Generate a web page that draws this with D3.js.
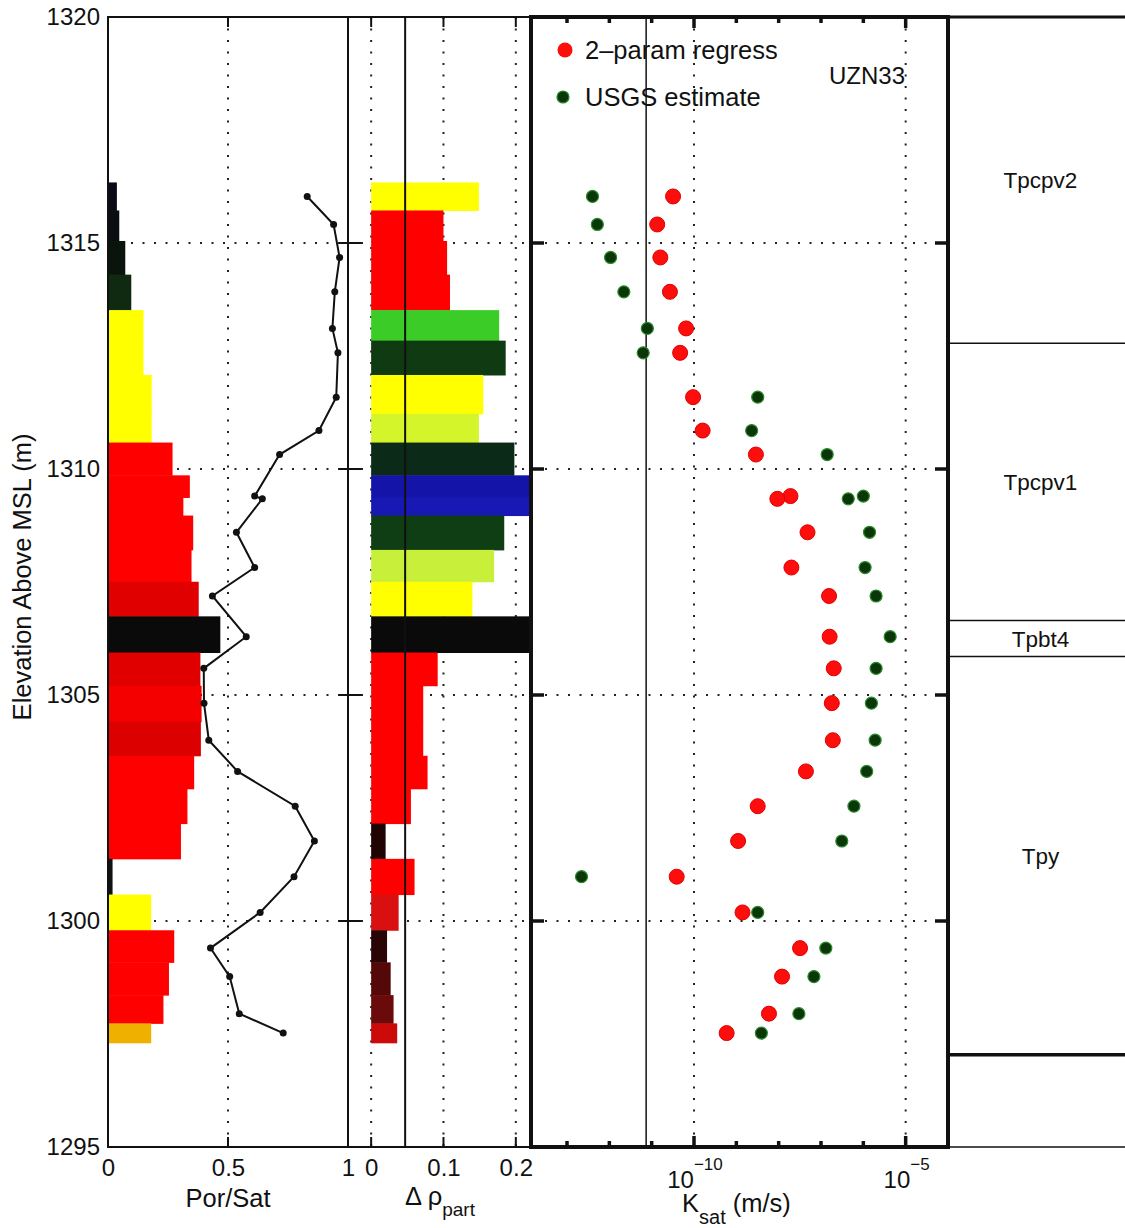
<!DOCTYPE html>
<html>
<head>
<meta charset="utf-8">
<title>UZN33</title>
<style>
    body { margin: 0; background: #fff; }
    svg { display: block; font-family: "Liberation Sans", Arial, sans-serif; }
    .dot { stroke: #222; stroke-width: 2; stroke-dasharray: 2, 9.5; fill: none; }
</style>
</head>
<body>
<script src="https://d3js.org/d3.v7.min.js"></script>
<script>
    // sample elevations (m above MSL), top to bottom
    var elev = [1316.03, 1315.41, 1314.68, 1313.92, 1313.11, 1312.57, 1311.59, 1310.85, 1310.32,
        1309.40, 1309.34, 1308.60, 1307.82, 1307.19, 1306.29, 1305.59, 1304.82, 1304.00, 1303.31,
        1302.54, 1301.77, 1300.98, 1300.19, 1299.40, 1298.77, 1297.95, 1297.52];

    // porosity bars + their colours
    var porosity = [0.037, 0.047, 0.072, 0.097, 0.148, 0.148, 0.182, 0.182, 0.269, 0.341, 0.314,
        0.355, 0.348, 0.378, 0.468, 0.385, 0.390, 0.387, 0.359, 0.331, 0.304, 0.019, 0.180,
        0.276, 0.254, 0.231, 0.180];
    var porColors = ['#0a0a16', '#0a0d12', '#0a140c', '#0f2a10', '#ffff00', '#ffff00', '#ffff00',
        '#ffff00', '#ff0000', '#ff0000', '#ff0000', '#ff0000', '#ff0000', '#e00000', '#0a0a0a',
        '#e00000', '#f40000', '#dc0000', '#ff0000', '#ff0000', '#ff0000', '#111111', '#ffff00',
        '#ff0000', '#ff0000', '#ff0000', '#f0b000'];

    // saturation line
    var saturation = [0.83, 0.94, 0.965, 0.945, 0.935, 0.958, 0.951, 0.879, 0.715, 0.611, 0.643,
        0.535, 0.611, 0.435, 0.576, 0.399, 0.40, 0.42, 0.54, 0.78, 0.86, 0.775, 0.634, 0.427,
        0.507, 0.547, 0.73];

    // delta rho_part bars
    var dRho = [0.149, 0.100, 0.105, 0.109, 0.177, 0.186, 0.155, 0.149, 0.198, 0.26, 0.26, 0.184,
        0.170, 0.140, 0.26, 0.092, 0.072, 0.072, 0.078, 0.055, 0.020, 0.060, 0.038, 0.022, 0.027,
        0.031, 0.036];
    var rhoColors = ['#ffff00', '#ff0000', '#ff0000', '#ff0000', '#3ccc28', '#0f3a12', '#ffff00',
        '#d4f52a', '#0c2a18', '#1414a8', '#1818b4', '#0f3d14', '#c8f03a', '#ffff00', '#0a0a0a',
        '#ff0000', '#ff0000', '#ff0000', '#ff0000', '#ff0000', '#200404', '#ff0000', '#d81010',
        '#2a0505', '#550808', '#6a0a0a', '#cc0a0a'];
    var dRhoRef = 0.047;

    // Ksat (m/s)
    var kRegress = [3.2e-11, 1.35e-11, 1.6e-11, 2.7e-11, 6.5e-11, 4.7e-11, 9.5e-11, 1.6e-10, 2.9e-9,
        1.9e-8, 9.3e-9, 4.8e-8, 2.0e-8, 1.55e-7, 1.6e-7, 2.0e-7, 1.8e-7, 1.9e-7, 4.4e-8, 3.2e-9,
        1.1e-9, 3.9e-11, 1.4e-9, 3.2e-8, 1.2e-8, 5.9e-9, 5.9e-10];
    var kUsgs = [4.0e-13, 5.2e-13, 1.07e-12, 2.2e-12, 7.9e-12, 6.3e-12, 3.2e-9, 2.3e-9, 1.4e-7,
        1.0e-6, 4.4e-7, 1.4e-6, 1.1e-6, 2.0e-6, 4.3e-6, 2.0e-6, 1.55e-6, 1.9e-6, 1.2e-6, 6.0e-7,
        3.1e-7, 2.2e-13, 3.2e-9, 1.3e-7, 6.8e-8, 3.0e-8, 3.9e-9];
    var kRef = 7.4e-12;

    // stratigraphic units
    var zoneNames = ['Tpcpv2', 'Tpcpv1', 'Tpbt4', 'Tpy'];
    var zoneTops = [1320, 1312.78, 1306.65, 1305.85];
    var zoneBottoms = [1312.78, 1306.65, 1305.85, 1297.04];

    var yTicks = [1295, 1300, 1305, 1310, 1315, 1320];
    var porTicks = [0, 0.5, 1];
    var rhoTicks = [0, 0.1, 0.2];
    var kMajor = [1e-10, 1e-5];
    var kMinor = [1e-13, 1e-12, 1e-11, 1e-9, 1e-8, 1e-7, 1e-6];

    var W = 1125, H = 1228;
    var svg = d3.select('body').append('svg').attr('width', W).attr('height', H);
    svg.append('rect').attr('width', W).attr('height', H).attr('fill', '#fff');

    var yTop = 17, yBot = 1147;
    var y = d3.scaleLinear().domain([1295, 1320]).range([yBot, yTop]);
    var xPor = d3.scaleLinear().domain([0, 1]).range([108, 348]);
    var xRho = d3.scaleLinear().domain([-0.032, 0.221]).range([348, 531]);
    var xK = d3.scaleLog().domain([1.41e-14, 1e-4]).range([531, 948]);
    var colRight = 1125;

    // bar extents from midpoints between samples
    var n = elev.length;
    function barTop(i) {
        return i === 0 ? elev[0] + (elev[0] - elev[1]) / 2 : (elev[i - 1] + elev[i]) / 2;
    }
    function barBot(i) {
        return i === n - 1 ? elev[n - 1] - (elev[n - 2] - elev[n - 1]) / 2 : (elev[i] + elev[i + 1]) / 2;
    }
    var idx = d3.range(n);

    var defs = svg.append('defs');
    defs.append('clipPath').attr('id', 'clipRho').append('rect')
        .attr('x', xRho.range()[0]).attr('y', yTop)
        .attr('width', xRho.range()[1] - xRho.range()[0]).attr('height', yBot - yTop);

    // ---- gridlines (under everything) ----
    var grid = svg.append('g');
    var gridY = [1300, 1305, 1310, 1315];
    grid.selectAll('.hg').data(gridY).enter().append('line').attr('class', 'dot')
        .attr('x1', xPor.range()[0]).attr('x2', xK.range()[1])
        .attr('y1', function (d) { return y(d); }).attr('y2', function (d) { return y(d); });
    grid.append('line').attr('class', 'dot')
        .attr('x1', xPor(0.5)).attr('x2', xPor(0.5)).attr('y1', yTop).attr('y2', yBot);
    grid.selectAll('.vr').data(rhoTicks).enter().append('line').attr('class', 'dot')
        .attr('x1', function (d) { return xRho(d); }).attr('x2', function (d) { return xRho(d); })
        .attr('y1', yTop).attr('y2', yBot);
    grid.selectAll('.vk').data(kMajor).enter().append('line').attr('class', 'dot')
        .attr('x1', function (d) { return xK(d); }).attr('x2', function (d) { return xK(d); })
        .attr('y1', yTop).attr('y2', yBot);

    // ---- panel 1 : porosity bars + saturation line ----
    svg.append('g').selectAll('rect').data(idx).enter().append('rect')
        .attr('x', xPor(0))
        .attr('y', function (i) { return y(barTop(i)); })
        .attr('width', function (i) { return xPor(porosity[i]) - xPor(0); })
        .attr('height', function (i) { return y(barBot(i)) - y(barTop(i)) + 0.5; })
        .attr('fill', function (i) { return porColors[i]; });

    var satLine = d3.line()
        .x(function (i) { return xPor(saturation[i]); })
        .y(function (i) { return y(elev[i]); });
    svg.append('path').datum(idx).attr('d', satLine)
        .attr('fill', 'none').attr('stroke', '#111').attr('stroke-width', 2);
    svg.append('g').selectAll('circle').data(idx).enter().append('circle')
        .attr('cx', function (i) { return xPor(saturation[i]); })
        .attr('cy', function (i) { return y(elev[i]); })
        .attr('r', 3.5).attr('fill', '#111');

    // ---- panel 2 : delta rho bars ----
    svg.append('g').attr('clip-path', 'url(#clipRho)').selectAll('rect').data(idx).enter().append('rect')
        .attr('x', xRho(0))
        .attr('y', function (i) { return y(barTop(i)); })
        .attr('width', function (i) { return xRho(dRho[i]) - xRho(0); })
        .attr('height', function (i) { return y(barBot(i)) - y(barTop(i)) + 0.5; })
        .attr('fill', function (i) { return rhoColors[i]; });
    svg.append('line').attr('x1', xRho(dRhoRef)).attr('x2', xRho(dRhoRef))
        .attr('y1', yTop).attr('y2', yBot).attr('stroke', '#111').attr('stroke-width', 2);

    // ---- panel 3 : Ksat ----
    svg.append('line').attr('x1', xK(kRef)).attr('x2', xK(kRef))
        .attr('y1', yTop).attr('y2', yBot).attr('stroke', '#111').attr('stroke-width', 1.5);
    svg.append('g').selectAll('circle').data(idx).enter().append('circle')
        .attr('cx', function (i) { return xK(kRegress[i]); })
        .attr('cy', function (i) { return y(elev[i]); })
        .attr('r', 7.5).attr('fill', '#ff0c0c').attr('stroke', '#e00000').attr('stroke-width', 1);
    svg.append('g').selectAll('circle').data(idx).enter().append('circle')
        .attr('cx', function (i) { return xK(kUsgs[i]); })
        .attr('cy', function (i) { return y(elev[i]); })
        .attr('r', 6).attr('fill', '#0a360a').attr('stroke', '#2a8a2a').attr('stroke-width', 1.2);

    // legend
    var leg = svg.append('g').attr('fill', '#111');
    leg.append('circle').attr('cx', 565).attr('cy', 50).attr('r', 7.5).attr('fill', '#ff0c0c');
    leg.append('text').attr('x', 585).attr('y', 59).attr('font-size', 25.5).text('2\u2013param regress');
    leg.append('circle').attr('cx', 563).attr('cy', 97).attr('r', 6)
        .attr('fill', '#0a360a').attr('stroke', '#2a8a2a').attr('stroke-width', 1.2);
    leg.append('text').attr('x', 585).attr('y', 106).attr('font-size', 25.5).text('USGS estimate');
    leg.append('text').attr('x', 829).attr('y', 84).attr('font-size', 24).text('UZN33');

    // ---- frames ----
    var frame = svg.append('g').attr('stroke', '#111').attr('fill', 'none');
    // panel 1 + 2 thin frame
    frame.append('path').attr('stroke-width', 2)
        .attr('d', 'M' + xPor(1) + ',' + yTop + 'H' + xPor(0) + 'V' + yBot + 'H' + xRho.range()[1]);
    frame.append('line').attr('stroke-width', 2)
        .attr('x1', xPor(1)).attr('x2', xPor(1)).attr('y1', yTop).attr('y2', yBot);
    frame.append('line').attr('stroke-width', 2)
        .attr('x1', xPor(1)).attr('x2', xRho.range()[1]).attr('y1', yTop).attr('y2', yTop);
    // panel 3 thick frame
    frame.append('rect').attr('stroke-width', 4)
        .attr('x', xK.range()[0]).attr('y', yTop)
        .attr('width', xK.range()[1] - xK.range()[0]).attr('height', yBot - yTop);
    // panel 4 column
    frame.append('line').attr('stroke-width', 3)
        .attr('x1', xK.range()[1]).attr('x2', colRight).attr('y1', yTop).attr('y2', yTop);
    frame.append('line').attr('stroke-width', 1.5)
        .attr('x1', xK.range()[1]).attr('x2', colRight).attr('y1', yBot).attr('y2', yBot);

    // ticks for panels 1 and 2
    var tk = svg.append('g').attr('stroke', '#111').attr('stroke-width', 2);
    gridY.forEach(function (d) {
        tk.append('line').attr('x1', xPor(1) - 9).attr('x2', xPor(1) + 13)
            .attr('y1', y(d)).attr('y2', y(d));
    });
    porTicks.forEach(function (d) {
        tk.append('line').attr('x1', xPor(d)).attr('x2', xPor(d)).attr('y1', yTop).attr('y2', yTop + 10);
        tk.append('line').attr('x1', xPor(d)).attr('x2', xPor(d)).attr('y1', yBot).attr('y2', yBot - 10);
    });
    rhoTicks.forEach(function (d) {
        tk.append('line').attr('x1', xRho(d)).attr('x2', xRho(d)).attr('y1', yTop).attr('y2', yTop + 10);
        tk.append('line').attr('x1', xRho(d)).attr('x2', xRho(d)).attr('y1', yBot).attr('y2', yBot - 10);
    });

    // ticks for panel 3 (thicker)
    var tk3 = svg.append('g').attr('stroke', '#111').attr('stroke-width', 3.5);
    gridY.forEach(function (d) {
        tk3.append('line').attr('x1', xK.range()[0]).attr('x2', xK.range()[0] + 13)
            .attr('y1', y(d)).attr('y2', y(d));
        tk3.append('line').attr('x1', xK.range()[1] - 13).attr('x2', xK.range()[1] + 1)
            .attr('y1', y(d)).attr('y2', y(d));
    });
    kMinor.concat(kMajor).forEach(function (d) {
        var len = kMajor.indexOf(d) >= 0 ? 11 : 6;
        tk3.append('line').attr('x1', xK(d)).attr('x2', xK(d)).attr('y1', yTop).attr('y2', yTop + len);
        tk3.append('line').attr('x1', xK(d)).attr('x2', xK(d)).attr('y1', yBot).attr('y2', yBot - len);
    });

    // ---- panel 4 : stratigraphy ----
    var strat = svg.append('g');
    zoneBottoms.forEach(function (d, i) {
        strat.append('line').attr('x1', xK.range()[1]).attr('x2', colRight)
            .attr('y1', y(d)).attr('y2', y(d))
            .attr('stroke', '#111').attr('stroke-width', i === zoneBottoms.length - 1 ? 3.5 : 1.5);
    });
    strat.selectAll('text').data(zoneNames).enter().append('text')
        .attr('x', (xK.range()[1] + colRight) / 2 + 4)
        .attr('y', function (d, i) { return y((zoneTops[i] + zoneBottoms[i]) / 2) + 8; })
        .attr('text-anchor', 'middle').attr('font-size', 22.5).attr('fill', '#111')
        .text(function (d) { return d; });

    // ---- axes labels ----
    var FONT = '"Liberation Sans", Arial, sans-serif';
    var yAxis = svg.append('g').attr('transform', 'translate(' + xPor(0) + ',0)')
        .call(d3.axisLeft(y).tickValues(yTicks).tickSize(0).tickPadding(8).tickFormat(d3.format('d')));
    yAxis.select('.domain').remove();
    yAxis.selectAll('text').attr('font-size', 24).attr('fill', '#111').attr('font-family', FONT);

    var porAxis = svg.append('g').attr('transform', 'translate(0,' + yBot + ')')
        .call(d3.axisBottom(xPor).tickValues(porTicks).tickSize(0).tickPadding(12).tickFormat(d3.format('~g')));
    var rhoAxis = svg.append('g').attr('transform', 'translate(0,' + yBot + ')')
        .call(d3.axisBottom(xRho).tickValues(rhoTicks).tickSize(0).tickPadding(12).tickFormat(d3.format('~g')));
    [porAxis, rhoAxis].forEach(function (a) {
        a.select('.domain').remove();
        a.selectAll('text').attr('font-size', 24).attr('fill', '#111').attr('font-family', FONT);
    });

    var kLab = svg.append('g').attr('font-size', 24).attr('fill', '#111');
    kMajor.forEach(function (d) {
        var t = kLab.append('text').attr('x', xK(d) + 1).attr('y', 1188).attr('text-anchor', 'middle');
        t.append('tspan').text('10');
        t.append('tspan').attr('dy', -18).attr('font-size', 17).text('\u2212' + Math.round(-Math.log10(d)));
    });

    var titles = svg.append('g').attr('font-size', 25.5).attr('fill', '#111');
    titles.append('text').attr('x', xPor(0.5)).attr('y', 1207).attr('text-anchor', 'middle').text('Por/Sat');
    var rt = titles.append('text').attr('x', 405).attr('y', 1205);
    rt.append('tspan').text('\u0394 \u03c1');
    rt.append('tspan').attr('dy', 11).attr('font-size', 19).text('part');
    var kt = titles.append('text').attr('x', 682).attr('y', 1212);
    kt.append('tspan').text('K');
    kt.append('tspan').attr('dy', 12).attr('font-size', 20).text('sat');
    kt.append('tspan').attr('dy', -12).text(' (m/s)');

    titles.append('text').attr('transform', 'translate(31,' + 577 + ') rotate(-90)')
        .attr('text-anchor', 'middle').text('Elevation Above MSL (m)');
</script>
</body>
</html>
